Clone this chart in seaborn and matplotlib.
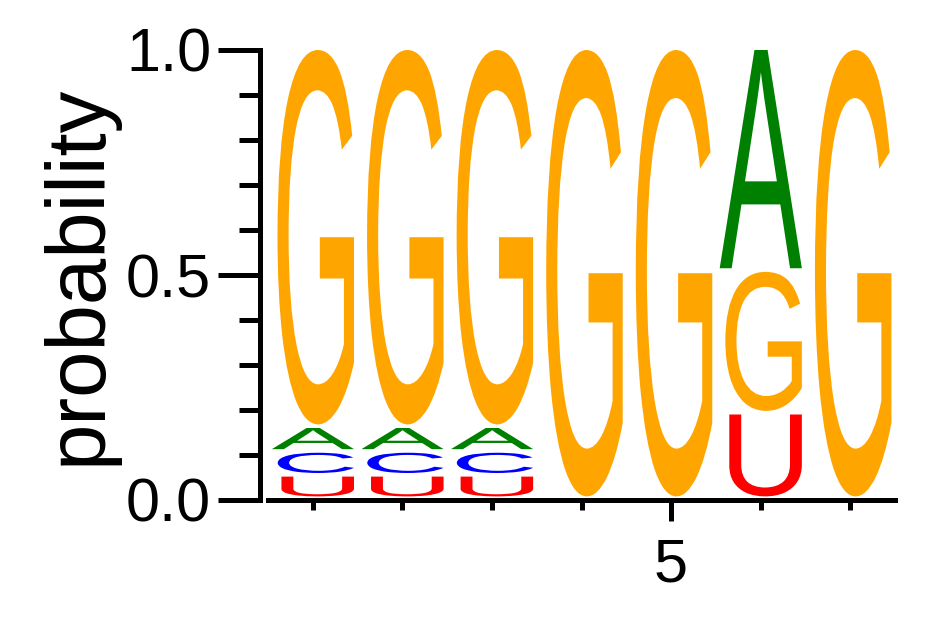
import numpy as np
import pandas as pd
import seaborn as sns
import matplotlib
matplotlib.use("Agg")
import matplotlib.pyplot as plt
from matplotlib.textpath import TextPath
from matplotlib.font_manager import FontProperties
from matplotlib.patches import PathPatch
from matplotlib.transforms import Affine2D

positions = [1, 2, 3, 4, 5, 6, 7]
prob_A = [0.055, 0.055, 0.055, 0.0, 0.0, 0.493, 0.0]
prob_C = [0.053, 0.053, 0.053, 0.0, 0.0, 0.0, 0.0]
prob_G = [0.840, 0.840, 0.840, 1.0, 1.0, 0.317, 1.0]
prob_U = [0.052, 0.052, 0.052, 0.0, 0.0, 0.190, 0.0]
letters = ["A", "C", "G", "U"]
letter_colors = {"A": "#008000", "C": "#0000FF", "G": "#FFA500", "U": "#FF0000"}
ytick_values = [0.0, 0.5, 1.0]
ytick_labels = ["0.0", "0.5", "1.0"]
xtick_major = [5]
xtick_major_labels = ["5"]
ylabel_text = "probability"

df = pd.DataFrame({"pos": positions, "A": prob_A, "C": prob_C, "G": prob_G, "U": prob_U})

sns.set_theme(style="ticks")
plt.rcParams["font.family"] = ["Liberation Sans", "DejaVu Sans"]

fig = plt.figure(figsize=(9.42, 6.17), dpi=100)
ax = fig.add_axes([268 / 942, 1 - 500 / 617, (895 - 268) / 942, 450 / 617])

glyph_font = FontProperties(family="Liberation Sans")
glyph_width = 0.92
glyph_gap = 0.008


def draw_glyph(ax, letter, xc, y0, y1, color):
    tp = TextPath((0, 0), letter, size=1, prop=glyph_font)
    verts = tp.vertices
    xmin, ymin = verts.min(axis=0)
    xmax, ymax = verts.max(axis=0)
    h = y1 - y0
    tr = (Affine2D()
          .translate(-xmin, -ymin)
          .scale(glyph_width / (xmax - xmin), h / (ymax - ymin))
          .translate(xc - glyph_width / 2, y0))
    path = tr.transform_path(tp)
    ax.add_patch(PathPatch(path, facecolor=color, edgecolor="none", lw=0))


for _, row in df.iterrows():
    vals = [(row[l], l) for l in letters if row[l] > 0]
    vals.sort(key=lambda t: t[0])
    base = 0.0
    for v, l in vals:
        draw_glyph(ax, l, row["pos"], base + glyph_gap, base + v, letter_colors[l])
        base += v

ax.set_xlim(0.5, 7.5)
ax.set_ylim(0.0, 1.0)

ax.set_yticks(ytick_values)
ax.set_yticklabels(ytick_labels)
ax.set_yticks(np.round(np.arange(0, 1.01, 0.1), 2), minor=True)
ax.set_xticks(xtick_major)
ax.set_xticklabels(xtick_major_labels)
ax.set_xticks([p for p in positions if p not in xtick_major], minor=True)

sns.despine(ax=ax)
for s in ["left", "bottom"]:
    ax.spines[s].set_linewidth(3.6)
    ax.spines[s].set_color("black")
ax.spines["left"].set_position(("outward", 6))

ax.tick_params(axis="y", which="major", length=30, width=3.6, pad=5,
               labelsize=44, color="black", labelcolor="black", direction="out")
ax.tick_params(axis="y", which="minor", length=15, width=3.6, color="black", direction="out")
ax.tick_params(axis="x", which="major", length=15, width=3.6, pad=12,
               labelsize=44, color="black", labelcolor="black", direction="out")
ax.tick_params(axis="x", which="minor", length=7, width=3.6, color="black", direction="out")

ax.set_ylabel(ylabel_text, fontsize=60, color="black", labelpad=6)
ax.set_xlabel("")
ax.set_facecolor("white")
fig.patch.set_facecolor("white")

fig.savefig("out.png", dpi=100, facecolor="white")
